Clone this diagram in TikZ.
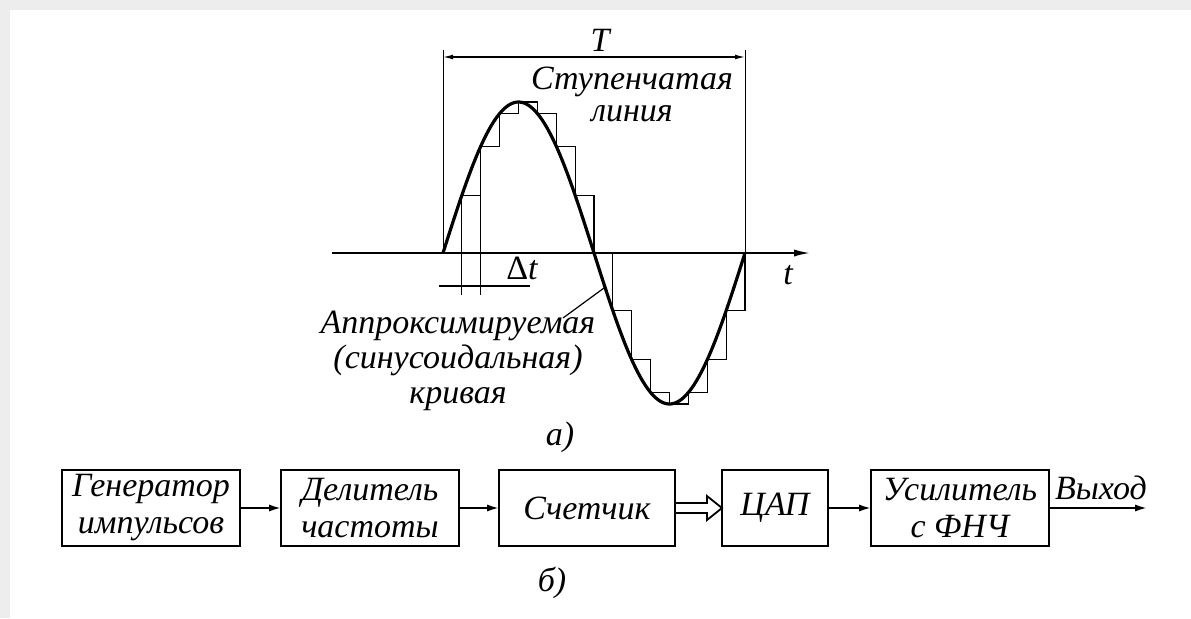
\documentclass[tikz,border=0pt]{standalone}
\usepackage{fontspec}
\setmainfont{Liberation Serif}
\usetikzlibrary{arrows.meta,positioning,calc}
\tikzset{
  blk/.style={draw=black, line width=1pt, minimum width=89pt, minimum height=38pt, inner sep=1pt, outer sep=0pt, align=center, font=\fontsize{17}{18.5}\selectfont\itshape},
  lbl/.style={inner sep=1pt, align=center, font=\fontsize{17}{18.5}\selectfont\itshape},
  arrow/.style={-{Latex[length=6pt,width=3.6pt]}, line width=1pt},
  axisline/.style={-{Latex[length=8pt,width=3.6pt]}, line width=0.9pt},
  dimline/.style={{Latex[length=5pt,width=2.4pt]}-{Latex[length=5pt,width=2.4pt]}, line width=0.6pt},
  extline/.style={line width=0.45pt},
  curve/.style={line width=1.6pt, line join=round},
  stair/.style={line width=0.6pt},
}
\def\Tp{302}   % period, px
\def\Am{151}   % amplitude, px

\begin{document}
\begin{tikzpicture}[x=0.5pt, y=-0.5pt]
\useasboundingbox (0,0) rectangle (1191,618);
\fill[black!7] (0,0) rectangle (1191,618);
\fill[white] (10,10) rectangle (1191,618);

% a) approximation of the sine
\coordinate (O) at (443,253);
\coordinate (E) at (745,253);
\coordinate (ax0) at (332,253);
\coordinate (ax1) at (810,253);
\draw[axisline] (ax0) -- (ax1);
\node[lbl] (tlab) at (788,275) {t};

\coordinate (Ta) at (443,57);
\coordinate (Tb) at (745,57);
\draw[extline] (443,50) -- (O);
\draw[extline] (745,50) -- (E);
\draw[dimline] (Ta) -- (Tb);
\node[lbl] (Tlab) at (600,40) {T};

\draw[stair] (O) foreach \k in {1,...,16} {
  -- ({443+\Tp*\k/16},{253-\Am*sin(360*(\k-1)/16)})
  -- ({443+\Tp*\k/16},{253-\Am*sin(360*\k/16)}) };
\draw[curve] plot[domain=0:1, samples=120] ({443+\Tp*\x},{253-\Am*sin(360*\x)});

\node[lbl, font=\fontsize{17}{16}\selectfont\itshape] (step) at (632,94) {Ступенчатая\\линия};

% delta t
\coordinate (d1) at ({443+\Tp/16},195);
\coordinate (d2) at ({443+\Tp*2/16},195);
\draw[extline] (d1) -- ++(0,100);
\draw[extline] (d2) -- ++(0,100);
\draw[extline, line width=0.6pt] (439,286) -- (530,286);
\node[lbl] (dt) at (522,268) {{\upshape Δ}t};

\node[lbl, font=\fontsize{17}{17.5}\selectfont\itshape] (appr) at (458,361) {Аппроксимируемая\\(синусоидальная)\\кривая};
\coordinate (lead0) at (563,318);
\coordinate (lead1) at (604,288);
\draw[extline, line width=0.6pt] (lead0) -- (lead1);
\node[lbl] (capa) at (560,437) {а)};

% b) block diagram
\node[blk] (gen) at (151,508) {Генератор\\импульсов};
\node[blk, right=20.5pt of gen] (div) {Делитель\\частоты};
\node[blk, minimum width=88pt, right=20pt of div] (cnt) {Счетчик};
\node[blk, minimum width=53pt, right=23.5pt of cnt] (dac) {ЦАП};
\node[blk, right=21.5pt of dac] (amp) {Усилитель\\с ФНЧ};
\coordinate[right=49pt of amp] (out);

\draw[arrow] (gen) -- (div);
\draw[arrow] (div) -- (cnt);
\draw[line width=0.9pt, line join=miter]
  ($(cnt.east)+(0,-5)$) -- ($(dac.west)+(-15,-5)$) -- ($(dac.west)+(-15,-12)$)
  -- (dac.west) -- ($(dac.west)+(-15,12)$) -- ($(dac.west)+(-15,5)$) -- ($(cnt.east)+(0,5)$);
\draw[arrow] (dac) -- (amp);
\draw[arrow] (amp) -- (out);
\node[lbl] (vyh) at ($(amp.east)!0.5!(out)+(3,-20)$) {Выход};
\node[lbl] (capb) at (552,583) {б)};
\end{tikzpicture}
\end{document}
